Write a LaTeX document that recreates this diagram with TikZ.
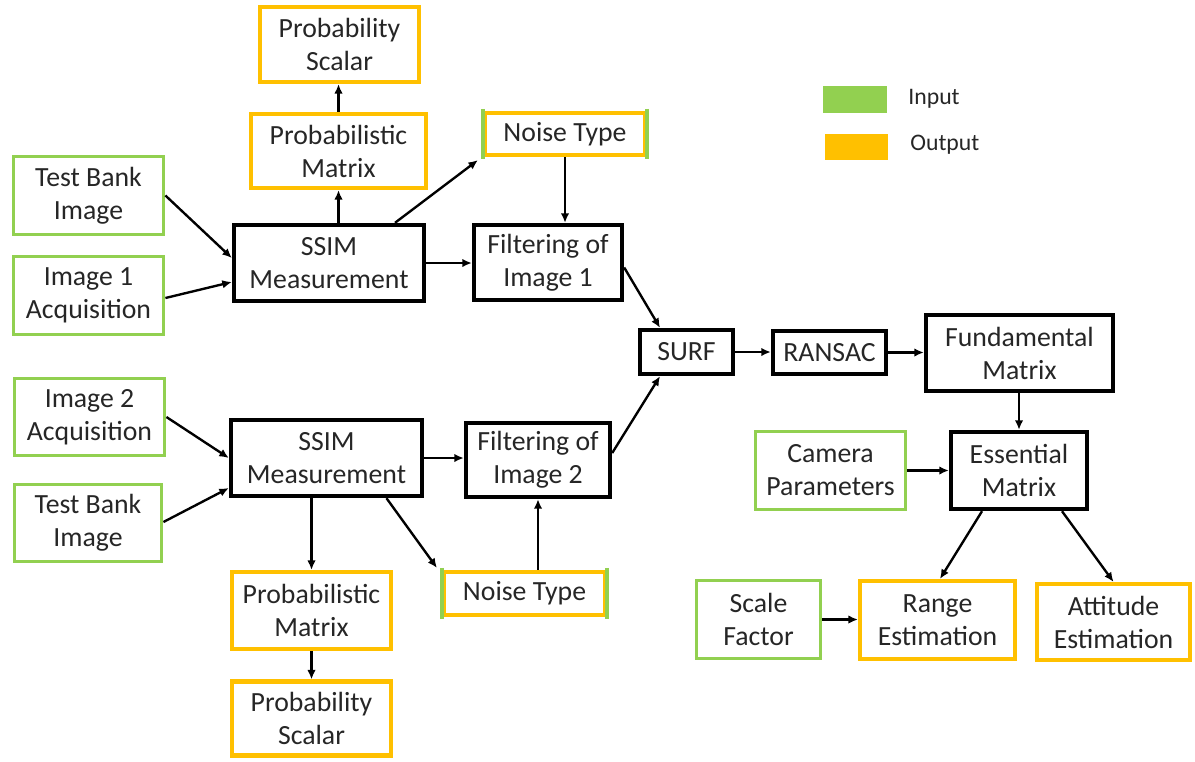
\documentclass[tikz,border=0pt]{standalone}
\usepackage{fontspec}
\setmainfont{Carlito}
\usetikzlibrary{arrows.meta,calc}
\definecolor{ingreen}{HTML}{92D050}
\definecolor{outgold}{HTML}{FFC000}
\tikzset{
  box/.style={draw,inner sep=0pt,align=center,text=black!85,
    font=\fontsize{15.8}{18.8}\selectfont,
    minimum width=3cm,minimum height=1.55cm},
  proc/.style={box,draw=black,line width=2.5pt},
  inp/.style={box,draw=ingreen,line width=2.2pt},
  outp/.style={box,draw=outgold,line width=2.4pt},
  arr/.style={-{Latex[length=1.9mm,width=1.7mm]},line width=1.35pt}
}

\begin{document}
\begin{tikzpicture}[x=0.02cm,y=-0.02cm]
  \useasboundingbox (0,0) rectangle (1195,761);
  % first image branch
  \node[outp,minimum width=3.18cm,minimum height=1.50cm] (ps1) at (339.5,44.5) {Probability\\Scalar};
  \node[outp,minimum width=3.50cm,minimum height=1.48cm] (pm1) at (338.5,151) {Probabilistic\\Matrix};
  \node[outp,minimum width=3.20cm,minimum height=0.84cm] (nt1) at (565,134) {Noise Type};
  \node[inp,minimum height=1.56cm] (tb1) at (88.5,195.5) {Test Bank\\Image};
  \node[inp,minimum height=1.56cm] (img1) at (88.5,295.5) {Image 1\\Acquisition};
  \node[proc,minimum width=3.80cm,minimum height=1.52cm] (ssim1) at (329,263) {SSIM\\Measurement};
  \node[proc,minimum width=2.96cm,minimum height=1.50cm] (flt1) at (548,262.5) {Filtering of\\Image 1};
  % second image branch
  \node[inp,minimum height=1.54cm] (img2) at (89.5,417) {Image 2\\Acquisition};
  \node[inp,minimum width=2.94cm,minimum height=1.54cm] (tb2) at (88,523) {Test Bank\\Image};
  \node[proc,minimum width=3.82cm,minimum height=1.52cm] (ssim2) at (326.5,458) {SSIM\\Measurement};
  \node[proc,minimum width=2.88cm,minimum height=1.48cm] (flt2) at (538,460) {Filtering of\\Image 2};
  \node[outp,minimum width=3.18cm,minimum height=1.54cm] (pm2) at (311.5,610.5) {Probabilistic\\Matrix};
  \node[outp,minimum width=3.22cm,minimum height=0.86cm] (nt2) at (524.5,593.5) {Noise Type};
  \node[outp,minimum width=3.18cm,minimum height=1.48cm] (ps2) at (311.5,718.5) {Probability\\Scalar};
  % matching and pose
  \node[proc,minimum width=1.86cm,minimum height=0.88cm] (surf) at (686.5,352) {SURF};
  \node[proc,minimum width=2.26cm,minimum height=0.86cm] (ransac) at (829.5,352.5) {RANSAC};
  \node[proc,minimum width=3.74cm,minimum height=1.52cm] (fund) at (1019.5,353) {Fundamental\\Matrix};
  \node[inp,minimum height=1.56cm] (cam) at (830.5,470.5) {Camera\\Parameters};
  \node[proc,minimum width=2.72cm,minimum height=1.54cm] (ess) at (1019,470.5) {Essential\\Matrix};
  \node[inp,minimum width=2.48cm,minimum height=1.56cm] (scale) at (758.5,619.5) {Scale\\Factor};
  \node[outp,minimum width=3.10cm,minimum height=1.56cm] (range) at (937.5,620) {Range\\Estimation};
  \node[outp,minimum width=3.06cm,minimum height=1.52cm] (att) at (1113.5,622) {Attitude\\Estimation};
  % noise type boxes have green sides
  \foreach \n in {nt1,nt2}{
    \draw[ingreen,line width=2.2pt] ([yshift=1.2pt]\n.north west) -- ([yshift=-1.2pt]\n.south west);
    \draw[ingreen,line width=2.2pt] ([yshift=1.2pt]\n.north east) -- ([yshift=-1.2pt]\n.south east);
  }
  % legend
  \node[fill=ingreen,minimum width=1.28cm,minimum height=0.54cm,inner sep=0pt] (legin) at (855,99.5) {};
  \node[fill=outgold,minimum width=1.26cm,minimum height=0.52cm,inner sep=0pt] (legout) at (856.5,147) {};
  \node[anchor=west,inner sep=0pt,text=black!85,font=\fontsize{13.5}{16}\selectfont] (legintxt) at (908,99) {Input};
  \node[anchor=west,inner sep=0pt,text=black!85,font=\fontsize{13.5}{16}\selectfont] (legouttxt) at (910,145) {Output};
  % connectors, first branch
  \draw[arr] (tb1.east) -- ([yshift=0.1cm]ssim1.west);
  \draw[arr] ([yshift=-0.05cm]img1.east) -- ([yshift=-0.38cm]ssim1.west);
  \draw[arr] (ssim1.east) -- (ssim1.east -| flt1.west);
  \draw[arr] (ssim1.north -| pm1) -- (pm1.south);
  \draw[arr] (pm1.north) -- (pm1.north |- ps1.south);
  \draw[arr] ([xshift=1.32cm]ssim1.north) -- ([xshift=-0.1cm,yshift=-0.06cm]nt1.south west);
  \draw[arr] (nt1.south) -- (nt1.south |- flt1.north);
  \draw[arr] ([yshift=-0.1cm]flt1.east) -- ([xshift=-0.53cm]surf.north);
  % connectors, second branch
  \draw[arr] (img2.east) -- (ssim2.west);
  \draw[arr] ([yshift=0.02cm]tb2.east) -- ([yshift=-0.6cm]ssim2.west);
  \draw[arr] (ssim2.east) -- (ssim2.east -| flt2.west);
  \draw[arr] (pm2.north |- ssim2.south) -- (pm2.north);
  \draw[arr] ([xshift=1.2cm]ssim2.south) -- ([xshift=-0.1cm,yshift=0.04cm]nt2.north west);
  \draw[arr] (nt2.north -| flt2) -- (flt2.south);
  \draw[arr] (pm2.south) -- (pm2.south |- ps2.north);
  \draw[arr] ([yshift=0.14cm]flt2.east) -- ([xshift=-0.53cm]surf.south);
  % connectors, pose estimation
  \draw[arr] (surf.east) -- (surf.east -| ransac.west);
  \draw[arr] (ransac.east) -- (ransac.east -| fund.west);
  \draw[arr] (ess.north |- fund.south) -- (ess.north);
  \draw[arr] (cam.east) -- (cam.east -| ess.west);
  \draw[arr] ([xshift=-0.74cm]ess.south) -- ([xshift=0.05cm]range.north);
  \draw[arr] ([xshift=0.86cm]ess.south) -- (att.north);
  \draw[arr] (scale.east) -- (scale.east -| range.west);
\end{tikzpicture}
\end{document}
